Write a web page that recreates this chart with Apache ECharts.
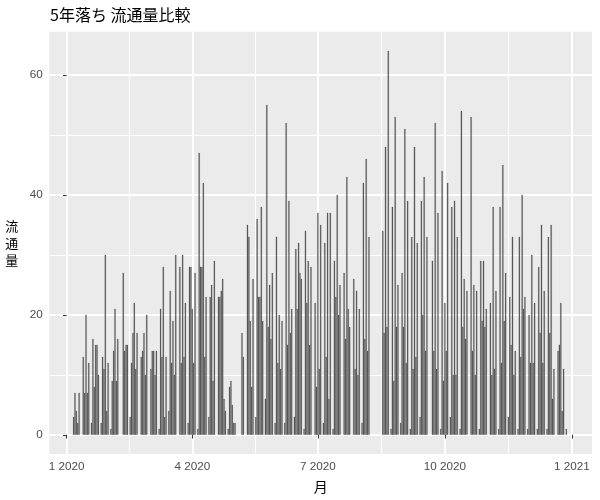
<!DOCTYPE html>
<html><head><meta charset="utf-8">
<script src="https://cdn.jsdelivr.net/npm/echarts@6/dist/echarts.min.js"></script>
<style>html,body{margin:0;padding:0;background:#fff}#c{width:600px;height:500px}</style>
</head><body><div id="c"></div>
<script>
// daily counts for 2020, one array per month (day 1 .. end of month)
const jan = [0,0,0,0,0,3,7,4,2,7, 0,0,13,7,20,7,12,0,2,16, 8,15,15,10,0,2,13,11,30,4, 12];
const feb = [0,1,9,14,21,9,16,0,0,0, 27,14,15,15,0,3,12,17,22,11, 17,0,0,13,14,17,10,20,0];
const mar = [0,11,14,14,10,14,0,1,21,13, 28,3,13,0,4,24,12,19,10,30, 0,0,28,12,30,13,22,0,2,28, 28];
const apr = [21,12,27,0,1,47,28,28,42,13, 23,0,3,23,25,9,29,0,0,23, 23,24,26,6,4,0,1,8,9,5];
const may = [2,2,0,0,0,0,17,13,0,0, 35,33,19,8,26,0,3,36,23,23, 38,19,0,6,55,18,25,16,27,0, 2];
const jun = [33,12,20,11,19,0,2,52,15,39, 17,21,0,3,31,21,32,27,26,0, 1,34,22,29,15,28,0,0,22,8];
const jul = [37,11,35,0,2,32,13,37,6,37, 0,1,29,23,40,20,25,0,0,27, 16,43,21,18,0,0,26,11,24,10, 21];
const aug = [0,2,42,16,46,14,33,0,0,0, 0,0,0,0,0,0,34,17,48,18, 64,0,1,38,9,53,18,25,0,2, 27];
const sep = [18,51,12,39,0,1,33,11,48,13, 32,0,3,39,20,43,14,33,0,0, 0,29,14,52,11,37,0,1,44,9];
const oct = [22,14,42,0,3,38,10,39,10,33, 0,1,54,18,26,16,24,0,0,53, 14,25,10,24,0,1,29,19,29,18, 21];
const nov = [0,0,22,10,38,11,24,0,1,38, 12,45,19,27,0,3,23,15,33,10, 14,0,1,33,13,40,21,23,0,1];
const dec = [20,12,30,12,22,0,1,28,17,35, 12,24,0,1,33,17,35,6,11,0, 0,14,15,22,4,11,0,1,0,0, 0];

const months = [jan, feb, mar, apr, may, jun, jul, aug, sep, oct, nov, dec];
const xTickDays = [0, 91, 182, 274, 366];          // 1 Jan, 1 Apr, 1 Jul, 1 Oct 2020, 1 Jan 2021 (days since 1 Jan 2020)
const xTickLabels = ['1 2020', '4 2020', '7 2020', '10 2020', '1 2021'];
const xMinorDays = [45.5, 136.5, 228, 320];
const yTicks = [0, 20, 40, 60];
const yMinorTicks = [10, 30, 50];

const data = [];
let offset = 0;
months.forEach(m => {
  m.forEach((v, i) => { if (v > 0) data.push([offset + i, v]); });
  offset += m.length;
});

const axisLabelStyle = { color: '#4D4D4D', fontSize: 11.7, fontFamily: 'Liberation Sans' };

const chart = echarts.init(document.getElementById('c'), null, { renderer: 'canvas' });
chart.setOption({
  animation: false,
  backgroundColor: '#ffffff',
  title: {
    text: '5年落ち 流通量比較',
    left: 45, top: 2,
    textStyle: { fontSize: 16, fontWeight: 'normal', color: '#000', fontFamily: 'Noto Sans CJK JP' }
  },
  grid: {
    left: 49.3, right: 8, top: 31.7, bottom: 46,
    show: true, backgroundColor: '#EBEBEB', borderWidth: 0
  },
  xAxis: [
    {
      type: 'value', min: -12.6, max: 380.6,
      name: '月', nameLocation: 'middle', nameGap: 26,
      nameTextStyle: { fontSize: 14, color: '#000', fontFamily: 'Noto Sans CJK JP' },
      axisLine: { show: false },
      axisTick: { show: true, length: 3.7, lineStyle: { color: '#333333', width: 1 }, customValues: xTickDays },
      axisLabel: Object.assign({ margin: 7, customValues: xTickDays,
        formatter: v => { const i = xTickDays.indexOf(Math.round(v)); return i >= 0 ? xTickLabels[i] : ''; } }, axisLabelStyle),
      splitLine: { show: true, lineStyle: { color: '#ffffff', width: 1.9 } }
    },
    {
      type: 'value', min: -12.6, max: 380.6, position: 'bottom',
      axisLine: { show: false },
      axisTick: { show: false, customValues: xMinorDays },
      axisLabel: { show: false, customValues: xMinorDays },
      splitLine: { show: true, lineStyle: { color: '#ffffff', width: 0.95 } }
    }
  ],
  yAxis: [
    {
      type: 'value', min: -3.2, max: 67.2,
      name: '流\n通\n量', nameLocation: 'middle', nameRotate: 0, nameGap: 31,
      nameTextStyle: { fontSize: 13, color: '#000', lineHeight: 17, fontFamily: 'Noto Sans CJK JP' },
      axisLine: { show: false },
      axisTick: { show: true, length: 3.7, lineStyle: { color: '#333333', width: 1 }, customValues: yTicks },
      axisLabel: Object.assign({ margin: 6.6, customValues: yTicks }, axisLabelStyle),
      splitLine: { show: true, lineStyle: { color: '#ffffff', width: 1.9 } }
    },
    {
      type: 'value', min: -3.2, max: 67.2, position: 'left',
      axisLine: { show: false },
      axisTick: { show: false, customValues: yMinorTicks },
      axisLabel: { show: false, customValues: yMinorTicks },
      splitLine: { show: true, lineStyle: { color: '#ffffff', width: 0.95 } }
    }
  ],
  series: [{
    type: 'bar',
    xAxisIndex: 0, yAxisIndex: 0,
    data: data,
    barWidth: 1.3,
    barMaxWidth: 10,
    itemStyle: { color: '#595959', borderWidth: 0.15, borderColor: '#595959' },
    z: 3
  }]
});
</script>
</body></html>
